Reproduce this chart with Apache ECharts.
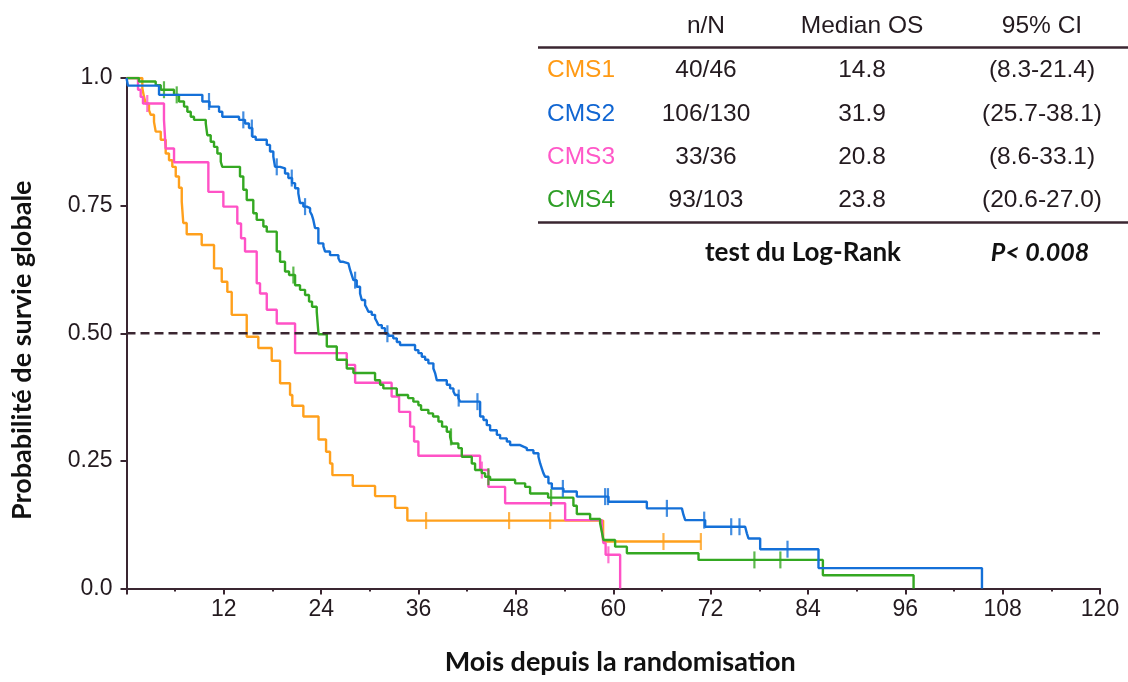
<!DOCTYPE html>
<html>
<head>
<meta charset="utf-8">
<script src="https://cdn.jsdelivr.net/npm/echarts@6/dist/echarts.min.js"></script>
<style>
html,body{margin:0;padding:0;background:#fff;}
#chart{width:1128px;height:682px;}
</style>
</head>
<body>
<div id="chart"></div>
<script>
// ---------- DATA ----------
const xTickLabels = ['', '12', '24', '36', '48', '60', '72', '84', '96', '108', '120'];
const yTickValues = [0, 0.25, 0.5, 0.75, 1];
const yTickLabels = ['0.0', '0.25', '0.50', '0.75', '1.0'];

// CMS1 (orange)
const cms1T = [0, 1.95, 2.16, 2.37, 2.77, 2.98, 3.39, 3.60, 4.22, 4.83, 5.24, 5.65, 6.07, 6.47, 6.81, 7.00, 7.42, 9.27, 10.79, 11.74, 12.43, 12.97, 14.82, 16.25, 17.90, 18.93, 20.16, 20.44, 21.80, 23.67, 24.60, 25.09, 25.38, 27.89, 30.64, 33.11, 34.62, 58.75, 70.80];
const cms1S = [1, 0.980, 0.963, 0.950, 0.937, 0.928, 0.914, 0.895, 0.879, 0.852, 0.839, 0.826, 0.807, 0.785, 0.758, 0.716, 0.694, 0.673, 0.627, 0.601, 0.581, 0.536, 0.493, 0.471, 0.446, 0.402, 0.379, 0.358, 0.337, 0.292, 0.268, 0.245, 0.222, 0.201, 0.181, 0.158, 0.133, 0.092, 0.092];
const cms1CensT = [36.93, 47.16, 52.22, 66.19, 70.80];
const cms1CensS = [0.133, 0.133, 0.133, 0.092, 0.092];

// CMS2 (blue)
const cms2T = [0, 0.18, 4.01, 9.35, 10.23, 11.41, 11.81, 13.87, 14.61, 15.10, 15.51, 15.93, 17.29, 17.69, 18.10, 18.31, 18.93, 19.54, 19.95, 20.41, 20.78, 21.18, 21.39, 21.80, 22.22, 22.63, 22.84, 23.03, 23.24, 23.65, 24.27, 24.48, 25.09, 26.12, 26.33, 26.73, 27.35, 27.56, 27.77, 27.97, 28.38, 28.79, 29.00, 29.41, 29.62, 29.82, 30.23, 30.64, 30.85, 31.05, 31.47, 31.87, 32.28, 32.88, 33.32, 33.72, 35.57, 35.98, 36.40, 36.81, 37.21, 37.83, 38.04, 38.25, 39.48, 39.89, 40.30, 40.51, 40.91, 41.12, 43.59, 44.00, 44.41, 44.82, 45.65, 46.05, 46.88, 47.29, 48.52, 48.93, 49.35, 50.16, 50.78, 50.99, 51.20, 51.39, 51.60, 52.01, 52.43, 53.86, 55.51, 59.41, 64.14, 68.46, 68.66, 68.87, 71.33, 76.26, 76.47, 76.67, 78.11, 85.30, 105.45];
const cms2S = [1, 0.985, 0.967, 0.954, 0.944, 0.934, 0.924, 0.918, 0.911, 0.902, 0.885, 0.879, 0.869, 0.856, 0.846, 0.826, 0.823, 0.813, 0.804, 0.794, 0.784, 0.774, 0.755, 0.748, 0.745, 0.738, 0.732, 0.722, 0.706, 0.676, 0.670, 0.660, 0.653, 0.647, 0.640, 0.637, 0.634, 0.624, 0.614, 0.604, 0.591, 0.578, 0.565, 0.555, 0.549, 0.542, 0.536, 0.529, 0.523, 0.516, 0.510, 0.499, 0.495, 0.490, 0.483, 0.477, 0.467, 0.461, 0.454, 0.448, 0.441, 0.431, 0.422, 0.408, 0.399, 0.392, 0.386, 0.379, 0.373, 0.366, 0.337, 0.330, 0.320, 0.310, 0.301, 0.294, 0.288, 0.281, 0.278, 0.275, 0.271, 0.265, 0.258, 0.245, 0.235, 0.226, 0.219, 0.206, 0.196, 0.190, 0.180, 0.170, 0.157, 0.154, 0.144, 0.134, 0.121, 0.118, 0.108, 0.098, 0.077, 0.040, 0];
const cms2CensT = [10.17, 14.40, 15.45, 18.52, 20.37, 22.01, 28.18, 32.16, 40.95, 43.26, 53.79, 59.00, 59.35, 66.61, 71.21, 74.54, 75.56, 81.48];
const cms2CensS = [0.954, 0.918, 0.902, 0.826, 0.804, 0.748, 0.604, 0.499, 0.373, 0.366, 0.196, 0.180, 0.180, 0.157, 0.134, 0.121, 0.121, 0.077];

// CMS3 (pink)
const cms3T = [0, 1.42, 1.75, 2.03, 4.62, 4.83, 5.86, 10.09, 11.94, 13.66, 14.12, 14.61, 16.05, 16.46, 17.29, 18.52, 20.78, 27.15, 28.18, 32.68, 33.60, 34.96, 35.45, 35.98, 43.59, 44.61, 46.67, 54.07, 58.59, 58.79, 59.06, 60.85];
const cms3S = [1, 0.977, 0.963, 0.950, 0.918, 0.862, 0.835, 0.777, 0.748, 0.715, 0.686, 0.660, 0.598, 0.578, 0.546, 0.519, 0.461, 0.438, 0.403, 0.376, 0.346, 0.317, 0.288, 0.260, 0.232, 0.199, 0.167, 0.134, 0.118, 0.089, 0.066, 0];
const cms3CensT = [2.56, 43.80, 59.40];
const cms3CensS = [0.950, 0.232, 0.066];

// CMS4 (green)
const cms4T = [0, 1.54, 3.60, 4.22, 5.86, 6.47, 7.09, 7.50, 7.92, 8.32, 9.77, 9.96, 10.38, 10.79, 11.20, 11.62, 11.81, 13.99, 14.40, 14.82, 15.63, 16.05, 16.87, 17.29, 18.52, 18.93, 19.54, 20.04, 20.78, 21.39, 22.01, 22.50, 22.87, 23.45, 23.67, 24.69, 25.92, 27.15, 27.97, 30.64, 31.26, 31.66, 33.32, 34.71, 35.36, 35.98, 36.31, 37.21, 37.79, 38.45, 38.90, 39.48, 39.89, 40.10, 40.91, 41.33, 42.56, 42.97, 43.80, 44.20, 44.82, 47.90, 49.14, 49.75, 51.97, 55.09, 55.51, 57.15, 58.38, 58.59, 58.79, 60.23, 61.68, 70.51, 85.84, 97.02];
const cms4S = [1, 0.993, 0.986, 0.977, 0.967, 0.954, 0.944, 0.934, 0.924, 0.918, 0.911, 0.888, 0.875, 0.865, 0.852, 0.836, 0.826, 0.807, 0.781, 0.761, 0.735, 0.722, 0.709, 0.699, 0.660, 0.640, 0.621, 0.614, 0.594, 0.585, 0.575, 0.562, 0.552, 0.542, 0.498, 0.474, 0.448, 0.431, 0.422, 0.408, 0.399, 0.392, 0.379, 0.373, 0.366, 0.359, 0.350, 0.343, 0.337, 0.327, 0.317, 0.307, 0.297, 0.284, 0.275, 0.258, 0.245, 0.232, 0.226, 0.219, 0.213, 0.206, 0.199, 0.186, 0.178, 0.162, 0.146, 0.136, 0.128, 0.111, 0.095, 0.082, 0.069, 0.056, 0.026, 0];
const cms4CensT = [4.62, 6.19, 20.57, 40.00, 44.61, 52.34, 77.40, 80.60];
const cms4CensS = [0.977, 0.967, 0.614, 0.297, 0.219, 0.178, 0.056, 0.056];

// Median reference line
const refLineT = [0, 120];
const refLineS = [0.5, 0.5];

// Table
const tableHeaders = ['n/N', 'Median OS', '95% CI'];
const tableGroups = ['CMS1', 'CMS2', 'CMS3', 'CMS4'];
const tableNN = ['40/46', '106/130', '33/36', '93/103'];
const tableMedian = ['14.8', '31.9', '20.8', '23.8'];
const tableCI = ['(8.3-21.4)', '(25.7-38.1)', '(8.6-33.1)', '(20.6-27.0)'];
const testLabel = 'test du Log-Rank';
const pLabel = 'P< 0.008';

// ---------- STYLE ----------
const colors = {
  CMS1: '#ffa01c',
  CMS2: '#1470d8',
  CMS3: '#ff52c6',
  CMS4: '#34a822'
};
const textColors = {
  CMS1: '#ff9a14',
  CMS2: '#1166d2',
  CMS3: '#ff58c8',
  CMS4: '#2e9e26'
};
const dark = '#3a2631';
const labelColor = '#231a1f';

function zip(a, b) { return a.map((v, i) => [v, b[i]]); }

const groups = [
  {name: 'CMS1', T: cms1T, S: cms1S, cT: cms1CensT, cS: cms1CensS, z: 3},
  {name: 'CMS3', T: cms3T, S: cms3S, cT: cms3CensT, cS: cms3CensS, z: 4},
  {name: 'CMS4', T: cms4T, S: cms4S, cT: cms4CensT, cS: cms4CensS, z: 5},
  {name: 'CMS2', T: cms2T, S: cms2S, cT: cms2CensT, cS: cms2CensS, z: 6}
];

const series = [];
groups.forEach(g => {
  series.push({
    name: g.name, type: 'line', step: 'end', data: zip(g.T, g.S),
    showSymbol: false, symbol: 'none', z: g.z,
    lineStyle: {color: colors[g.name], width: 2.4},
    itemStyle: {color: colors[g.name]}
  });
  series.push({
    name: g.name + ' censored', type: 'scatter', data: zip(g.cT, g.cS),
    symbol: 'rect', symbolSize: [2.2, 17], z: g.z,
    itemStyle: {color: colors[g.name]}
  });
});
series.push({
  name: 'median', type: 'line', data: zip(refLineT, refLineS), showSymbol: false, symbol: 'none', z: 10,
  lineStyle: {color: dark, width: 2.5, type: [9, 5]}
});

// table graphics
const colX = {label: 547, nn: 706, med: 862, ci: 1042};
const rowY = [70.5, 114, 157, 200.5];
const headerY = 26;
const tFont = '"Liberation Sans", Arial, sans-serif';
const tSize = 24.5;
const graphics = [];
tableHeaders.forEach((h, i) => {
  const x = [colX.nn, colX.med, colX.ci][i];
  graphics.push({type: 'text', x: x, y: headerY, style: {text: h, fill: labelColor, fontFamily: tFont, fontSize: tSize, align: 'center', verticalAlign: 'middle'}});
});
tableGroups.forEach((g, i) => {
  graphics.push({type: 'text', x: colX.label, y: rowY[i], style: {text: g, fill: textColors[g], fontFamily: tFont, fontSize: tSize, align: 'left', verticalAlign: 'middle'}});
  graphics.push({type: 'text', x: colX.nn, y: rowY[i], style: {text: tableNN[i], fill: labelColor, fontFamily: tFont, fontSize: tSize, align: 'center', verticalAlign: 'middle'}});
  graphics.push({type: 'text', x: colX.med, y: rowY[i], style: {text: tableMedian[i], fill: labelColor, fontFamily: tFont, fontSize: tSize, align: 'center', verticalAlign: 'middle'}});
  graphics.push({type: 'text', x: colX.ci, y: rowY[i], style: {text: tableCI[i], fill: labelColor, fontFamily: tFont, fontSize: tSize, align: 'center', verticalAlign: 'middle'}});
});
graphics.push({type: 'line', shape: {x1: 538, y1: 47.5, x2: 1128, y2: 47.5}, style: {stroke: dark, lineWidth: 2.5}});
graphics.push({type: 'line', shape: {x1: 538, y1: 222.5, x2: 1128, y2: 222.5}, style: {stroke: dark, lineWidth: 2.5}});
graphics.push({type: 'text', x: 803, y: 253, style: {text: testLabel, fill: '#111', fontFamily: 'Lato, sans-serif', fontWeight: 'bold', fontSize: 26, align: 'center', verticalAlign: 'middle'}});
graphics.push({type: 'text', x: 1040, y: 253, style: {text: pLabel, fill: '#111', fontFamily: 'Lato, sans-serif', fontWeight: 'bold', fontStyle: 'italic', fontSize: 25, align: 'center', verticalAlign: 'middle'}});

const chart = echarts.init(document.getElementById('chart'), null, {renderer: 'canvas'});
chart.setOption({
  animation: false,
  backgroundColor: '#ffffff',
  grid: {left: 126.5, right: 28, top: 78, bottom: 93.5, containLabel: false},
  xAxis: {
    type: 'value', min: 0, max: 120, interval: 12,
    name: 'Mois depuis la randomisation', nameLocation: 'middle', nameGap: 60,
    nameTextStyle: {fontFamily: 'Lato, sans-serif', fontWeight: 'bold', fontSize: 27, color: '#111', padding: [0, 0, 0, 14]},
    axisLine: {show: true, lineStyle: {color: dark, width: 2}},
    axisTick: {show: true, length: 6, lineStyle: {color: dark, width: 2}},
    minorTick: {show: true, splitNumber: 2, length: 3, lineStyle: {color: dark, width: 2}},
    splitLine: {show: false},
    axisLabel: {
      margin: 10, color: labelColor, fontFamily: tFont, fontSize: 23,
      formatter: v => xTickLabels[Math.round(v / 12)]
    }
  },
  yAxis: {
    type: 'value', min: 0, max: 1, interval: 0.25,
    name: 'Probabilité de survie globale', nameLocation: 'middle', nameGap: 91, nameRotate: 90,
    nameTextStyle: {fontFamily: 'Lato, sans-serif', fontWeight: 'bold', fontSize: 27, color: '#111', padding: [0, 34, 0, 0]},
    axisLine: {show: true, lineStyle: {color: dark, width: 2}},
    axisTick: {show: true, length: 6, lineStyle: {color: dark, width: 2}},
    splitLine: {show: false},
    axisLabel: {
      margin: 14, color: labelColor, fontFamily: tFont, fontSize: 23,
      formatter: v => yTickLabels[yTickValues.indexOf(v)]
    }
  },
  series: series,
  graphic: graphics
});
</script>
</body>
</html>
